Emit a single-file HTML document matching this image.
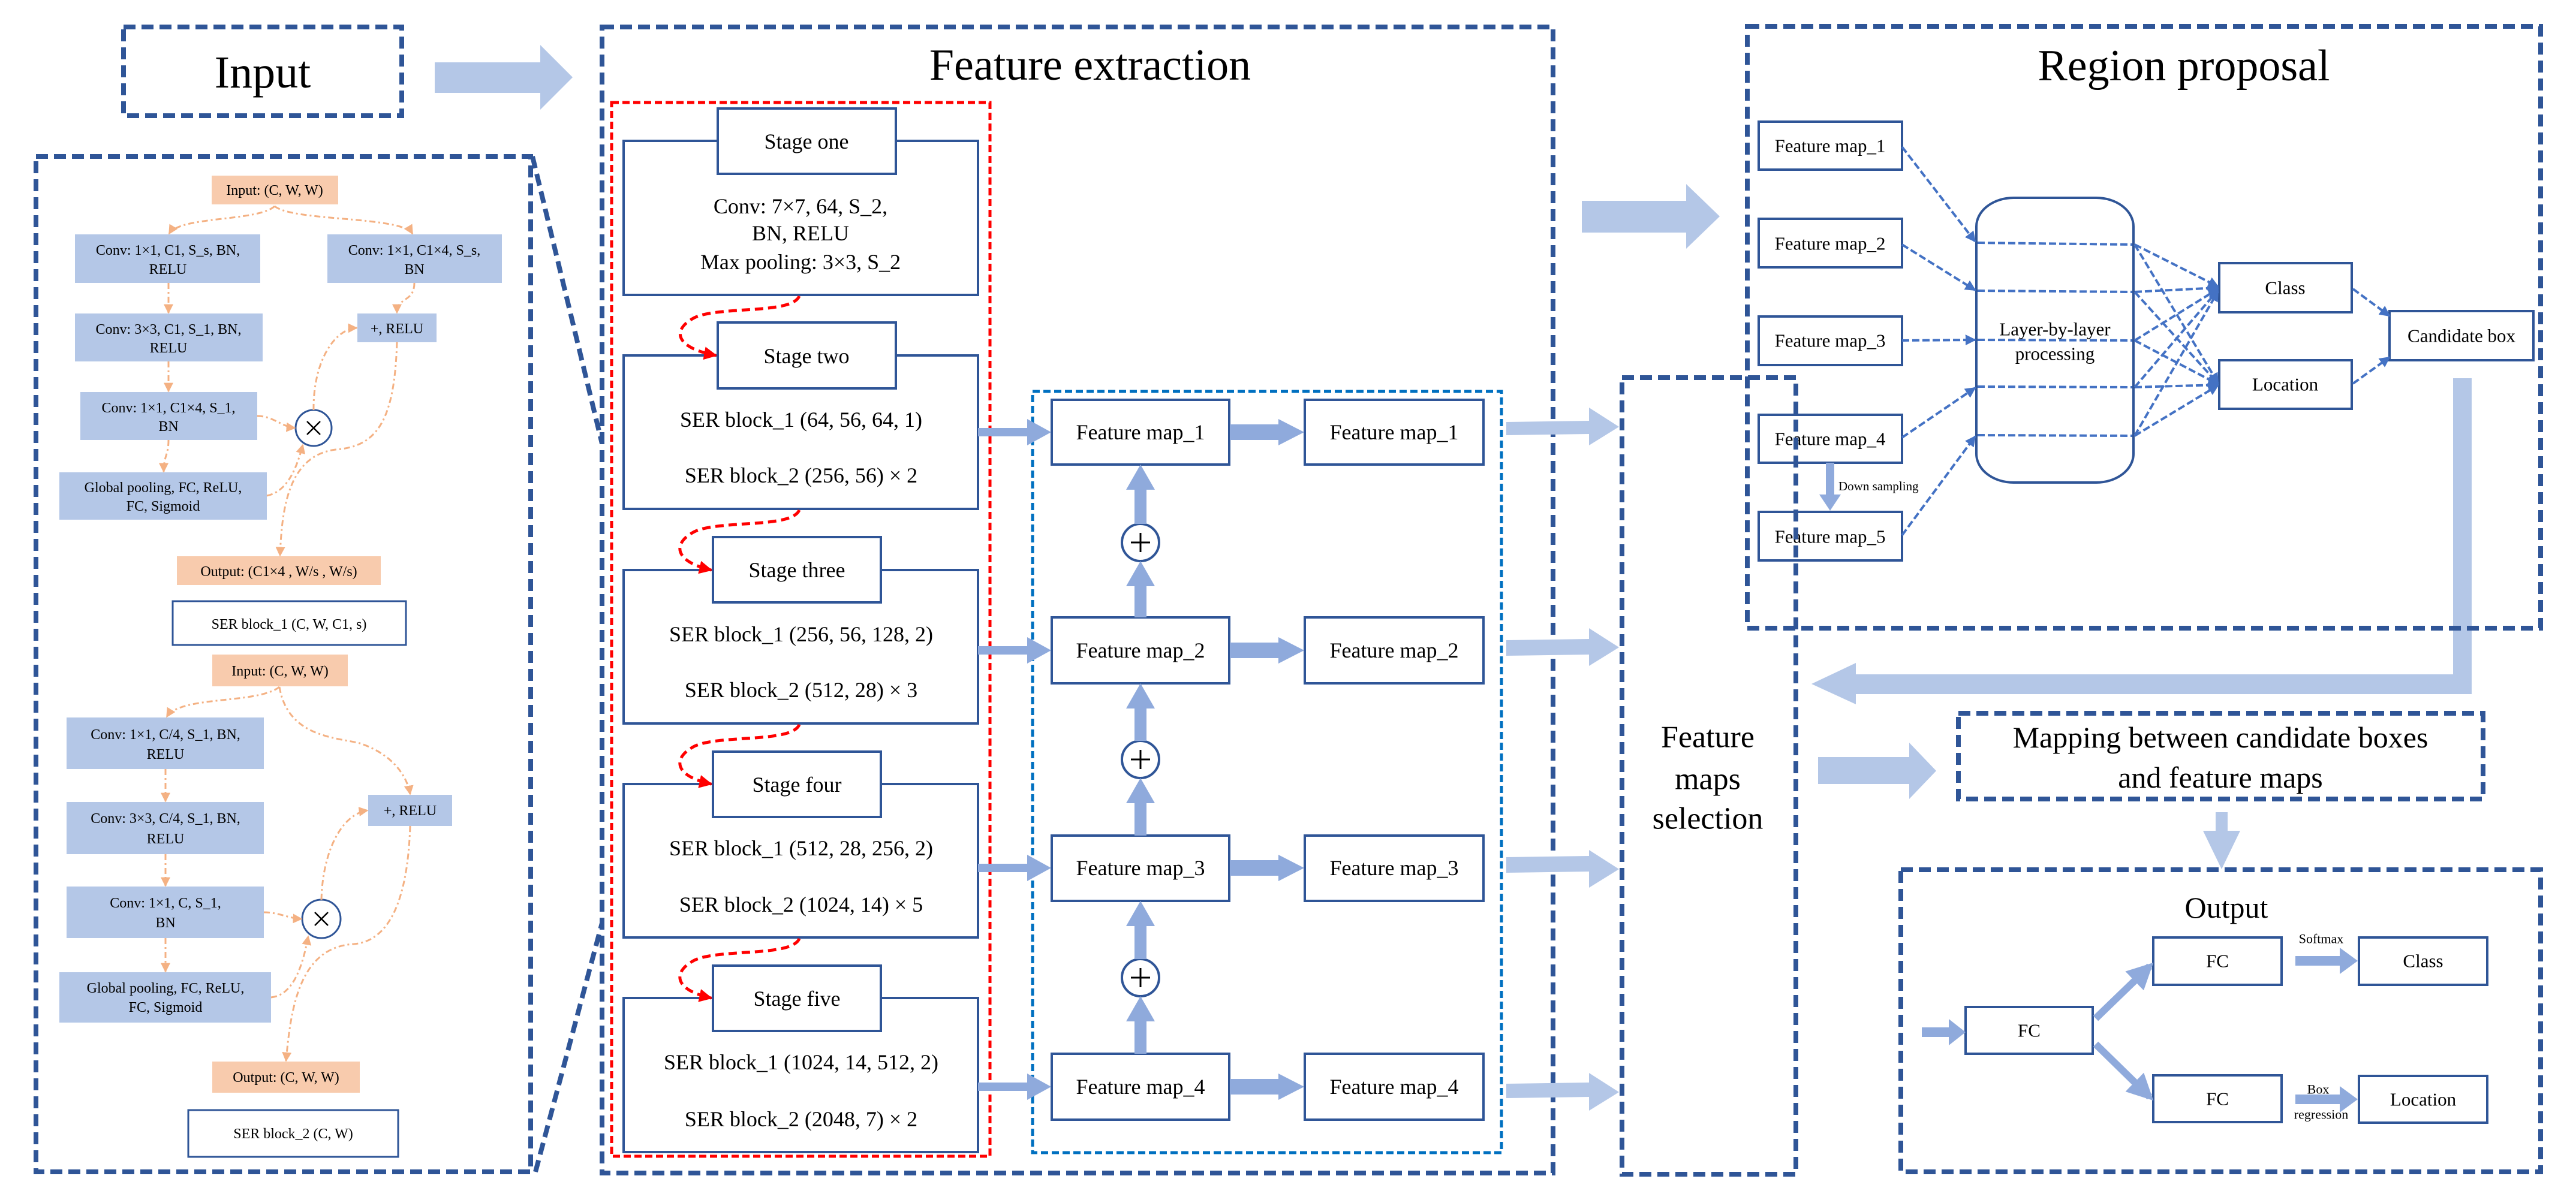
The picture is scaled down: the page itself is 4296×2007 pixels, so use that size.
<!DOCTYPE html>
<html><head><meta charset="utf-8"><style>
html,body{margin:0;padding:0;background:#fff;}
svg{display:block;font-family:"Liberation Serif",serif;}
</style></head><body>
<svg width="4296" height="2007" viewBox="0 0 4296 2007" xmlns="http://www.w3.org/2000/svg">
<defs>
<marker id="oa2" viewBox="0 0 10 10" refX="9" refY="5" markerWidth="16" markerHeight="16" orient="auto" markerUnits="userSpaceOnUse"><path d="M0,0 L10,5 L0,10 z" fill="#f4b183"/></marker>
<marker id="ba" viewBox="0 0 10 10" refX="9" refY="5" markerWidth="18" markerHeight="18" orient="auto" markerUnits="userSpaceOnUse"><path d="M0,0 L10,5 L0,10 z" fill="#4472c4"/></marker>
<marker id="ra" viewBox="0 0 10 10" refX="9" refY="5" markerWidth="22" markerHeight="22" orient="auto" markerUnits="userSpaceOnUse"><path d="M0,0 L10,5 L0,10 z" fill="#ff0000"/></marker>
<marker id="ma" viewBox="0 0 10 10" refX="8" refY="5" markerWidth="44" markerHeight="44" orient="auto" markerUnits="userSpaceOnUse"><path d="M0,0 L10,5 L0,10 z" fill="#8faadc"/></marker>
</defs>

<!-- Input -->
<rect x="206" y="45" width="464" height="148" fill="none" stroke="#2f5597" stroke-width="8" stroke-dasharray="20 10"/>
<text x="438" y="121" font-size="76" text-anchor="middle" dominant-baseline="central">Input</text>
<polygon points="725,104 901,104 901,75 955,129 901,183 901,155 725,155" fill="#b4c7e7"/>

<!-- Left detail panel -->
<rect x="60" y="261" width="825" height="1694" fill="none" stroke="#2f5597" stroke-width="8" stroke-dasharray="20 10"/>
<line x1="888" y1="261" x2="1004" y2="740" stroke="#2f5597" stroke-width="8" stroke-dasharray="20 10"/>
<line x1="893" y1="1955" x2="1004" y2="1540" stroke="#2f5597" stroke-width="8" stroke-dasharray="20 10"/>

<g font-size="24" text-anchor="middle">
<rect x="353" y="293" width="211" height="48" fill="#f8cbad"/><text x="458" y="325">Input: (C, W, W)</text>
<rect x="125" y="391" width="309" height="81" fill="#b4c7e7"/><text x="280" y="425">Conv: 1×1, C1, S_s, BN,</text><text x="280" y="457">RELU</text>
<rect x="546" y="391" width="291" height="81" fill="#b4c7e7"/><text x="691" y="425">Conv: 1×1, C1×4, S_s,</text><text x="691" y="457">BN</text>
<rect x="125" y="523" width="313" height="80" fill="#b4c7e7"/><text x="281" y="557">Conv: 3×3, C1, S_1, BN,</text><text x="281" y="588">RELU</text>
<rect x="596" y="523" width="132" height="48" fill="#b4c7e7"/><text x="662" y="556">+, RELU</text>
<rect x="134" y="654" width="295" height="80" fill="#b4c7e7"/><text x="281" y="688">Conv: 1×1, C1×4, S_1,</text><text x="281" y="719">BN</text>
<rect x="99" y="788" width="346" height="79" fill="#b4c7e7"/><text x="272" y="821">Global pooling, FC, ReLU,</text><text x="272" y="852">FC, Sigmoid</text>
<rect x="295" y="928" width="340" height="48" fill="#f8cbad"/><text x="465" y="961">Output: (C1×4 , W/s , W/s)</text>
<rect x="288" y="1003" width="389" height="73" fill="#fff" stroke="#2f5597" stroke-width="3"/><text x="482" y="1049">SER block_1 (C, W, C1, s)</text>

<rect x="354" y="1092" width="226" height="53" fill="#f8cbad"/><text x="467" y="1127">Input: (C, W, W)</text>
<rect x="111" y="1197" width="329" height="86" fill="#b4c7e7"/><text x="276" y="1233">Conv: 1×1, C/4, S_1, BN,</text><text x="276" y="1266">RELU</text>
<rect x="111" y="1338" width="329" height="87" fill="#b4c7e7"/><text x="276" y="1373">Conv: 3×3, C/4, S_1, BN,</text><text x="276" y="1407">RELU</text>
<rect x="111" y="1479" width="329" height="86" fill="#b4c7e7"/><text x="276" y="1514">Conv: 1×1, C, S_1,</text><text x="276" y="1547">BN</text>
<rect x="99" y="1622" width="353" height="84" fill="#b4c7e7"/><text x="276" y="1656">Global pooling, FC, ReLU,</text><text x="276" y="1688">FC, Sigmoid</text>
<rect x="614" y="1326" width="140" height="52" fill="#b4c7e7"/><text x="684" y="1360">+, RELU</text>
<rect x="354" y="1771" width="246" height="52" fill="#f8cbad"/><text x="477" y="1805">Output: (C, W, W)</text>
<rect x="314" y="1852" width="350" height="78" fill="#fff" stroke="#2f5597" stroke-width="3"/><text x="489" y="1899">SER block_2 (C, W)</text>
</g>
<g fill="#fff" stroke="#2f5597" stroke-width="3">
<circle cx="523" cy="714" r="30"/><circle cx="536" cy="1533" r="32"/>
</g>
<g stroke="#000" stroke-width="2.5">
<line x1="512" y1="703" x2="534" y2="725"/><line x1="534" y1="703" x2="512" y2="725"/>
<line x1="525" y1="1522" x2="547" y2="1544"/><line x1="547" y1="1522" x2="525" y2="1544"/>
</g>
<g fill="none" stroke="#f4b183" stroke-width="3" stroke-dasharray="10 5 3 5" marker-end="url(#oa2)">
<path d="M458,344 C430,370 300,360 282,390"/>
<path d="M458,344 C490,370 670,360 688,390"/>
<path d="M281,472 L281,522"/>
<path d="M281,603 L281,653"/>
<path d="M281,734 C281,760 273,760 273,787"/>
<path d="M429,694 C455,694 470,712 492,714"/>
<path d="M445,827 C480,820 495,780 505,742"/>
<path d="M523,684 C522,600 560,548 595,547"/>
<path d="M691,472 C691,505 662,495 662,522"/>
<path d="M662,571 C658,700 630,745 560,750 C480,760 470,850 467,927"/>
<path d="M466,1146 C430,1175 300,1160 278,1196"/>
<path d="M466,1146 C480,1230 560,1230 600,1240 C660,1260 680,1300 684,1325"/>
<path d="M276,1283 L276,1337"/>
<path d="M276,1425 L276,1478"/>
<path d="M276,1565 L276,1621"/>
<path d="M440,1522 C465,1522 480,1532 503,1533"/>
<path d="M452,1664 C490,1660 505,1610 514,1562"/>
<path d="M536,1501 C538,1420 570,1358 613,1352"/>
<path d="M684,1378 C680,1500 650,1570 590,1575 C500,1580 485,1680 477,1770"/>
</g>

<!-- Feature extraction -->
<rect x="1004" y="45" width="1586" height="1912" fill="none" stroke="#2f5597" stroke-width="8" stroke-dasharray="20 10"/>
<text x="1818" y="133" font-size="74" text-anchor="middle">Feature extraction</text>
<rect x="1020" y="171" width="631" height="1758" fill="none" stroke="#ff0000" stroke-width="5" stroke-dasharray="12 6"/>

<g fill="#fff" stroke="#2f5597" stroke-width="4">
<rect x="1040" y="235" width="591" height="257"/><rect x="1197" y="181" width="297" height="109"/>
<rect x="1040" y="593" width="591" height="256"/><rect x="1197" y="538" width="297" height="110"/>
<rect x="1040" y="951" width="591" height="256"/><rect x="1189" y="896" width="280" height="109"/>
<rect x="1040" y="1308" width="591" height="256"/><rect x="1189" y="1254" width="280" height="109"/>
<rect x="1040" y="1665" width="591" height="257"/><rect x="1189" y="1611" width="280" height="109"/>
</g>
<g font-size="36" text-anchor="middle" dominant-baseline="central">
<text x="1345" y="236">Stage one</text>
<text x="1335" y="344">Conv: 7×7, 64, S_2,</text><text x="1335" y="389">BN, RELU</text><text x="1335" y="437">Max pooling: 3×3, S_2</text>
<text x="1345" y="594">Stage two</text>
<text x="1336" y="700">SER block_1 (64, 56, 64, 1)</text><text x="1336" y="793">SER block_2 (256, 56) × 2</text>
<text x="1329" y="951">Stage three</text>
<text x="1336" y="1058">SER block_1 (256, 56, 128, 2)</text><text x="1336" y="1151">SER block_2 (512, 28) × 3</text>
<text x="1329" y="1309">Stage four</text>
<text x="1336" y="1415">SER block_1 (512, 28, 256, 2)</text><text x="1336" y="1509">SER block_2 (1024, 14) × 5</text>
<text x="1329" y="1666">Stage five</text>
<text x="1336" y="1772">SER block_1 (1024, 14, 512, 2)</text><text x="1336" y="1867">SER block_2 (2048, 7) × 2</text>
</g>
<g fill="none" stroke="#ff0000" stroke-width="5" stroke-dasharray="14 8" marker-end="url(#ra)">
<path d="M1333,494 C1320,525 1200,510 1158,530 C1120,550 1125,580 1194,593"/>
<path d="M1333,851 C1320,882 1200,867 1158,887 C1120,907 1125,937 1186,951"/>
<path d="M1333,1209 C1320,1240 1200,1225 1158,1245 C1120,1265 1125,1295 1186,1308"/>
<path d="M1333,1566 C1320,1597 1200,1582 1158,1602 C1120,1622 1125,1652 1186,1665"/>
</g>

<rect x="1722" y="653" width="782" height="1270" fill="none" stroke="#0070c0" stroke-width="5" stroke-dasharray="12 6"/>
<g fill="#fff" stroke="#2f5597" stroke-width="4">
<rect x="1754" y="667" width="296" height="108"/><rect x="2176" y="667" width="298" height="108"/>
<rect x="1754" y="1030" width="296" height="110"/><rect x="2176" y="1030" width="298" height="110"/>
<rect x="1754" y="1394" width="296" height="109"/><rect x="2176" y="1394" width="298" height="109"/>
<rect x="1754" y="1758" width="296" height="110"/><rect x="2176" y="1758" width="298" height="110"/>
<circle cx="1902" cy="905" r="31"/><circle cx="1902" cy="1267" r="31"/><circle cx="1902" cy="1631" r="31"/>
</g>
<g stroke="#000" stroke-width="3">
<line x1="1886" y1="905" x2="1918" y2="905"/><line x1="1902" y1="889" x2="1902" y2="921"/>
<line x1="1886" y1="1267" x2="1918" y2="1267"/><line x1="1902" y1="1251" x2="1902" y2="1283"/>
<line x1="1886" y1="1631" x2="1918" y2="1631"/><line x1="1902" y1="1615" x2="1902" y2="1647"/>
</g>
<g font-size="36" text-anchor="middle" dominant-baseline="central">
<text x="1902" y="721">Feature map_1</text><text x="2325" y="721">Feature map_1</text>
<text x="1902" y="1085">Feature map_2</text><text x="2325" y="1085">Feature map_2</text>
<text x="1902" y="1448">Feature map_3</text><text x="2325" y="1448">Feature map_3</text>
<text x="1902" y="1813">Feature map_4</text><text x="2325" y="1813">Feature map_4</text>
</g>
<g fill="#8faadc">
<polygon points="1631,714 1713,714 1713,699 1753,721 1713,743 1713,728 1631,728"/>
<polygon points="1631,1078 1713,1078 1713,1063 1753,1085 1713,1107 1713,1092 1631,1092"/>
<polygon points="1631,1441 1713,1441 1713,1426 1753,1448 1713,1470 1713,1455 1631,1455"/>
<polygon points="1631,1806 1713,1806 1713,1791 1753,1813 1713,1835 1713,1820 1631,1820"/>
<polygon points="2051,708 2132,708 2132,699 2175,721 2132,743 2132,734 2051,734"/>
<polygon points="2051,1072 2132,1072 2132,1063 2175,1085 2132,1107 2132,1098 2051,1098"/>
<polygon points="2051,1435 2132,1435 2132,1426 2175,1448 2132,1470 2132,1461 2051,1461"/>
<polygon points="2051,1800 2132,1800 2132,1791 2175,1813 2132,1835 2132,1826 2051,1826"/>
<polygon points="1892,1030 1892,978 1878,978 1902,936 1926,978 1912,978 1912,1030"/>
<polygon points="1892,874 1892,817 1878,817 1902,775 1926,817 1912,817 1912,874"/>
<polygon points="1892,1394 1892,1340 1878,1340 1902,1298 1926,1340 1912,1340 1912,1394"/>
<polygon points="1892,1236 1892,1182 1878,1182 1902,1140 1926,1182 1912,1182 1912,1236"/>
<polygon points="1892,1758 1892,1704 1878,1704 1902,1662 1926,1704 1912,1704 1912,1758"/>
<polygon points="1892,1600 1892,1545 1878,1545 1902,1503 1926,1545 1912,1545 1912,1600"/>
</g>
<g fill="#b4c7e7">
<polygon points="2512,704 2650,702 2650,680 2700,712 2650,743 2650,724 2512,726"/>
<polygon points="2512,1068 2650,1066 2650,1048 2700,1080 2650,1111 2650,1092 2512,1094"/>
<polygon points="2512,1430 2650,1428 2650,1418 2700,1450 2650,1481 2650,1454 2512,1456"/>
<polygon points="2512,1808 2650,1806 2650,1790 2700,1822 2650,1853 2650,1830 2512,1832"/>
<polygon points="2638,335 2812,335 2812,307 2868,361 2812,415 2812,388 2638,388"/>
<rect x="4091" y="631" width="31" height="527"/>
<rect x="3095" y="1125" width="1027" height="33"/>
<polygon points="3095,1106 3021,1141 3095,1175"/>
<polygon points="3032,1263 3184,1263 3184,1239 3229,1286 3184,1333 3184,1308 3032,1308"/>
<rect x="3695" y="1355" width="20" height="33"/>
<polygon points="3674,1386 3736,1386 3705,1450"/>
</g>

<!-- Region proposal -->
<rect x="2914" y="44" width="1323" height="1004" fill="none" stroke="#2f5597" stroke-width="8" stroke-dasharray="20 10"/>
<text x="3642" y="134" font-size="74" text-anchor="middle">Region proposal</text>
<g fill="#fff" stroke="#2f5597" stroke-width="4">
<rect x="2933" y="203" width="239" height="80"/>
<rect x="2933" y="365" width="239" height="81"/>
<rect x="2933" y="528" width="239" height="81"/>
<rect x="2933" y="692" width="239" height="80"/>
<rect x="2933" y="854" width="239" height="81"/>
<rect x="3296" y="330" width="262" height="475" rx="62" ry="48"/>
<rect x="3701" y="439" width="221" height="82"/>
<rect x="3701" y="601" width="221" height="81"/>
<rect x="3985" y="519" width="240" height="82"/>
</g>
<rect x="3045" y="772" width="14" height="55" fill="#8faadc"/>
<polygon points="3034,825 3070,825 3052,852" fill="#8faadc"/>
<text x="3066" y="818" font-size="21">Down sampling</text>
<g fill="none" stroke="#4472c4" stroke-width="4" stroke-dasharray="12 5">
<line x1="3298" y1="405" x2="3556" y2="408"/>
<line x1="3298" y1="485" x2="3556" y2="487"/>
<line x1="3298" y1="567" x2="3556" y2="568"/>
<line x1="3298" y1="645" x2="3556" y2="646"/>
<line x1="3298" y1="726" x2="3556" y2="727"/>
</g>
<g fill="none" stroke="#4472c4" stroke-width="4" stroke-dasharray="12 5" marker-end="url(#ba)">
<line x1="3172" y1="245" x2="3294" y2="403"/>
<line x1="3172" y1="408" x2="3294" y2="484"/>
<line x1="3172" y1="568" x2="3294" y2="567"/>
<line x1="3172" y1="730" x2="3294" y2="647"/>
<line x1="3172" y1="893" x2="3294" y2="728"/>
<line x1="3560" y1="408" x2="3699" y2="478"/>
<line x1="3560" y1="487" x2="3699" y2="480"/>
<line x1="3560" y1="568" x2="3699" y2="482"/>
<line x1="3560" y1="646" x2="3699" y2="484"/>
<line x1="3560" y1="727" x2="3699" y2="486"/>
<line x1="3560" y1="408" x2="3699" y2="639"/>
<line x1="3560" y1="487" x2="3699" y2="640"/>
<line x1="3560" y1="568" x2="3699" y2="641"/>
<line x1="3560" y1="646" x2="3699" y2="642"/>
<line x1="3560" y1="727" x2="3699" y2="643"/>
<line x1="3924" y1="482" x2="3985" y2="527"/>
<line x1="3924" y1="640" x2="3985" y2="596"/>
</g>
<g font-size="31" text-anchor="middle" dominant-baseline="central">
<text x="3052" y="243">Feature map_1</text>
<text x="3052" y="406">Feature map_2</text>
<text x="3052" y="568">Feature map_3</text>
<text x="3052" y="732">Feature map_4</text>
<text x="3052" y="895">Feature map_5</text>
<text x="3427" y="549">Layer-by-layer</text>
<text x="3427" y="590">processing</text>
<text x="3811" y="480">Class</text>
<text x="3811" y="641">Location</text>
<text x="4105" y="560">Candidate box</text>
</g>

<!-- Feature maps selection -->
<rect x="2705" y="630" width="290" height="1329" fill="none" stroke="#2f5597" stroke-width="8" stroke-dasharray="20 10"/>
<g font-size="52" text-anchor="middle" dominant-baseline="central">
<text x="2848" y="1230">Feature</text>
<text x="2848" y="1300">maps</text>
<text x="2848" y="1366">selection</text>
</g>

<!-- Mapping -->
<rect x="3266" y="1190" width="875" height="143" fill="none" stroke="#2f5597" stroke-width="8" stroke-dasharray="20 10"/>
<g font-size="50" text-anchor="middle" dominant-baseline="central">
<text x="3703" y="1230">Mapping between candidate boxes</text>
<text x="3703" y="1297">and feature maps</text>
</g>

<!-- Output -->
<rect x="3170" y="1451" width="1067" height="504" fill="none" stroke="#2f5597" stroke-width="8" stroke-dasharray="20 10"/>
<text x="3713" y="1514" font-size="50" text-anchor="middle" dominant-baseline="central">Output</text>
<g fill="#fff" stroke="#2f5597" stroke-width="4">
<rect x="3278" y="1680" width="212" height="78"/>
<rect x="3591" y="1564" width="214" height="79"/>
<rect x="3934" y="1564" width="214" height="79"/>
<rect x="3591" y="1794" width="214" height="78"/>
<rect x="3934" y="1795" width="214" height="78"/>
</g>
<g fill="#8faadc">
<polygon points="3205,1714 3250,1714 3250,1700 3278,1722 3250,1744 3250,1730 3205,1730"/>
<polygon points="3828,1595 3902,1595 3902,1581 3932,1603 3902,1625 3902,1611 3828,1611"/>
<polygon points="3828,1826 3902,1826 3902,1812 3932,1834 3902,1856 3902,1842 3828,1842"/>
</g>
<g stroke="#8faadc" stroke-width="12" fill="none" marker-end="url(#ma)">
<line x1="3495" y1="1699" x2="3585" y2="1612"/>
<line x1="3495" y1="1742" x2="3585" y2="1830"/>
</g>
<g font-size="31" text-anchor="middle" dominant-baseline="central">
<text x="3384" y="1719">FC</text>
<text x="3698" y="1603">FC</text>
<text x="4041" y="1603">Class</text>
<text x="3698" y="1833">FC</text>
<text x="4041" y="1834">Location</text>
</g>
<g font-size="22" text-anchor="middle" dominant-baseline="central">
<text x="3871" y="1566">Softmax</text>
<text x="3866" y="1817">Box</text>
<text x="3871" y="1859">regression</text>
</g>
</svg>
</body></html>
